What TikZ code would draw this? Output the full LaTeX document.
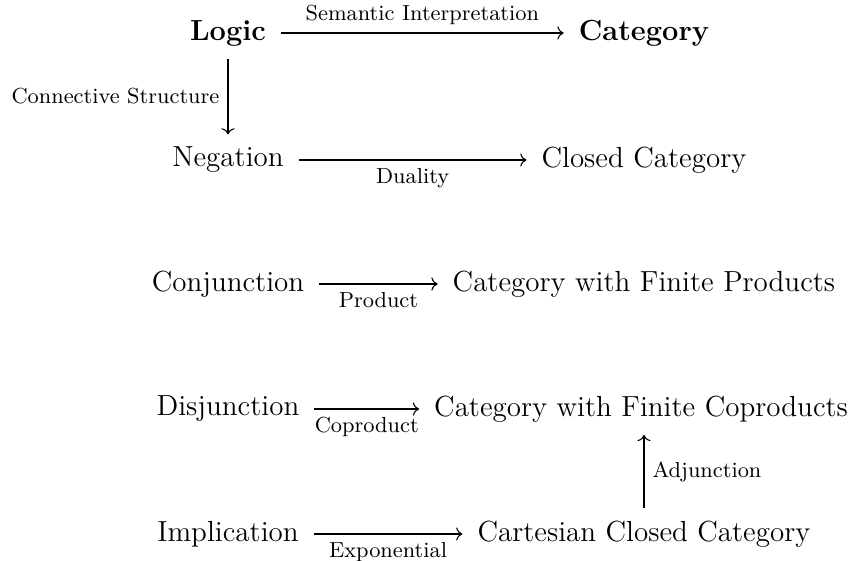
\documentclass[tikz,border=0pt]{standalone}
\usepackage{tikz}
\usetikzlibrary{positioning}
\usetikzlibrary{arrows.meta}
\begin{document}
\begin{tikzpicture}[object/.style={inner xsep=6pt, inner ysep=5pt, font=\large},
			arrowlabel/.style={font=\small},
			every path/.style={line width=0.45pt}, >={Computer Modern Rightarrow}]
			\useasboundingbox (0,0) rectangle (12.475,8.147);
			\node[object, font=\large\bfseries](node1) at (3.311, 7.668) {Logic};
			
			\node[object, font=\large\bfseries](node2) at (9.352, 7.668) {Category};
			\draw[->] (node1) -- node[above, arrowlabel]{Semantic Interpretation} (node2);
			
			\node[object](node3) at (3.311, 5.823) {Negation};
			\draw[->] (node1) -- node[left, arrowlabel]{Connective Structure} (node3);
			
			\node[object](node4) at (9.352, 5.823) {Closed Category};
			\draw[->] (node3) -- node[below, arrowlabel]{Duality} (node4);
			
			\node[object](node5) at (3.311, 4.023) {Conjunction};
			\node[object](node6) at (9.352, 4.023) {Category with Finite Products};
			\draw[->] (node5) -- node[below, arrowlabel]{Product} (node6);
			
			\node[object](node7) at (3.311, 2.207) {Disjunction};
			\node[object](node8) at (9.31, 2.207) {Category with Finite Coproducts};
			\draw[->] (node7) -- node[below, arrowlabel]{Coproduct} (node8);
			
			\node[object](node9) at (3.311, 0.392) {Implication};
			\node[object](node10) at (9.352, 0.392) {Cartesian Closed Category};
			\draw[->] (node9) -- node[below, arrowlabel]{Exponential} (node10);
			
			\draw[->] (node10) -- node[right, arrowlabel]{Adjunction} (node10 |- node8.south);
			\end{tikzpicture}
\end{document}
